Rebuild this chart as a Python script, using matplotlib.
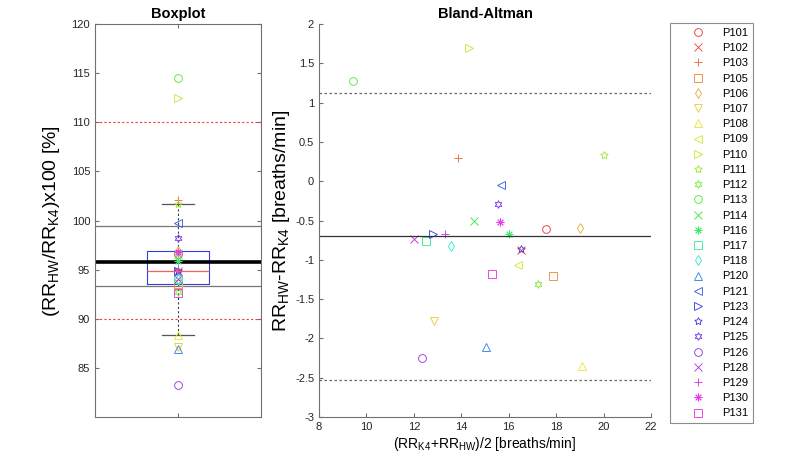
import numpy as np
import matplotlib
matplotlib.use('Agg')
import matplotlib.pyplot as plt
from matplotlib.colors import hsv_to_rgb, to_hex

plt.rcParams['font.family'] = ['Liberation Sans', 'DejaVu Sans']
plt.rcParams['mathtext.fontset'] = 'custom'
plt.rcParams['mathtext.rm'] = 'Liberation Sans'
plt.rcParams['mathtext.it'] = 'Liberation Sans'

# subjects and their markers
subjects = ['P101', 'P102', 'P103', 'P105', 'P106', 'P107', 'P108', 'P109', 'P110',
            'P111', 'P112', 'P113', 'P114', 'P116', 'P117', 'P118', 'P120', 'P121',
            'P123', 'P124', 'P125', 'P126', 'P128', 'P129', 'P130', 'P131']
markers = ['o', 'x', '+', 's', 'd', 'v', '^', '<', '>', (5, 1, 0), (6, 1, 0), 'o', 'x',
           (8, 2, 0), 's', 'd', '^', '<', '>', (5, 1, 0), (6, 1, 0), 'o', 'x', '+',
           (8, 2, 0), 's']
hues = [0.0, 0.02, 0.05, 0.08, 0.11, 0.14, 0.16, 0.19, 0.21, 0.24, 0.27, 0.31, 0.34,
        0.38, 0.43, 0.47, 0.60, 0.63, 0.66, 0.69, 0.72, 0.75, 0.78, 0.81, 0.83, 0.85]

# Bland-Altman: mean of both methods and difference HW-K4 [breaths/min]
ba_mean = [17.56, 16.50, 13.85, 17.88, 19.00, 12.86, 19.08, 16.38, 14.34,
           20.00, 17.25, 9.42, 14.55, 16.03, 12.50, 13.55, 15.04, 15.68,
           12.82, 16.51, 15.54, 12.34, 12.02, 13.31, 15.65, 15.28]
ba_diff = [-0.61, -0.87, 0.295, -1.20, -0.60, -1.775, -2.35, -1.066, 1.69,
           0.333, -1.31, 1.275, -0.50, -0.668, -0.757, -0.83, -2.105, -0.05,
           -0.67, -0.863, -0.286, -2.245, -0.735, -0.676, -0.515, -1.18]
ba_bias = -0.70
ba_loa = [1.12, -2.53]

# ratio HW/K4 in percent
ratio = [96.6, 94.9, 102.1, 93.5, 96.9, 87.1, 88.4, 93.7, 112.5,
         101.7, 92.7, 114.5, 96.6, 95.9, 94.1, 94.1, 86.9, 99.7,
         94.9, 94.9, 98.2, 83.3, 94.1, 95.1, 96.8, 92.6]
ratio_mean = 95.75
ratio_lines = [99.45, 93.35]
ratio_limits = [90, 110]

colors = [to_hex(hsv_to_rgb((h, 0.75, 0.92))) for h in hues]

fig = plt.figure(figsize=(8, 4.67), dpi=100)
axcol = '#707070'
ms = 5.6
mew = 0.65

# ---- boxplot ----
ax1 = fig.add_axes([0.11875, 0.107, 0.2075, 0.8415])
r = np.array(ratio)
q1, med, q3 = np.percentile(r, [25, 50, 75], method='hazen')
iqr = q3 - q1
lo = r[r >= q1 - 1.5 * iqr].min()
hi = r[r <= q3 + 1.5 * iqr].max()
stats = [dict(med=med, q1=q1, q3=q3, whislo=lo, whishi=hi, fliers=[])]
ax1.bxp(stats, positions=[1], widths=0.37, capwidths=0.187, showfliers=False,
        boxprops=dict(color='#3c3cd8', lw=0.8),
        medianprops=dict(color='#f06060', lw=0.9),
        whiskerprops=dict(color='#3a3a60', lw=0.8, ls=(0, (2, 2))),
        capprops=dict(color='#555555', lw=0.9))
for y in ratio_limits:
    ax1.axhline(y, color='#e84040', lw=0.8, ls=(0, (2, 2)))
for y in ratio_lines:
    ax1.axhline(y, color='#777777', lw=0.9)
ax1.axhline(ratio_mean, color='black', lw=2.6)
for i in range(len(subjects)):
    ax1.plot(1, ratio[i], marker=markers[i], ls='none', mfc='none', mec=colors[i],
             ms=ms, mew=mew)
ax1.set_xlim(0.5, 1.5)
ax1.set_ylim(80, 120)
ax1.set_yticks(np.arange(85, 121, 5))
ax1.set_xticks([1])
ax1.set_xticklabels([''])
ax1.tick_params(direction='in', top=True, right=True, length=3, labelsize=8,
                color=axcol, labelcolor='#262626')
for s in ax1.spines.values():
    s.set_color(axcol)
    s.set_linewidth(0.8)
ax1.set_title('Boxplot', fontsize=10.5, fontweight='bold', pad=4)
ax1.set_ylabel(r'(RR$_{\mathrm{HW}}$/RR$_{\mathrm{K4}}$)x100 [%]', fontsize=14)
ax1.yaxis.set_label_coords(-0.2, 0.5)

# ---- Bland-Altman ----
ax2 = fig.add_axes([0.39875, 0.107, 0.415, 0.8415])
handles = []
for i in range(len(subjects)):
    h, = ax2.plot(ba_mean[i], ba_diff[i], marker=markers[i], ls='none', mfc='none',
                  mec=colors[i], ms=ms, mew=mew, label=subjects[i])
    handles.append(h)
ax2.axhline(ba_bias, color='#333333', lw=0.9)
for y in ba_loa:
    ax2.axhline(y, color='#666666', lw=0.9, ls=(0, (2, 2)))
ax2.set_xlim(8, 22)
ax2.set_ylim(-3, 2)
ax2.set_xticks(np.arange(8, 23, 2))
ax2.set_yticks(np.arange(-3, 2.01, 0.5))
ax2.set_yticklabels(['-3', '-2.5', '-2', '-1.5', '-1', '-0.5', '0', '0.5', '1', '1.5', '2'])
ax2.spines['top'].set_visible(False)
ax2.spines['right'].set_visible(False)
for s in ax2.spines.values():
    s.set_color(axcol)
    s.set_linewidth(0.8)
ax2.tick_params(direction='in', length=3, labelsize=8, color=axcol, labelcolor='#262626')
ax2.set_title('Bland-Altman', fontsize=10.5, fontweight='bold', pad=4)
ax2.set_ylabel(r'RR$_{\mathrm{HW}}$-RR$_{\mathrm{K4}}$ [breaths/min]', fontsize=14)
ax2.yaxis.set_label_coords(-0.082, 0.5)
ax2.set_xlabel(r'(RR$_{\mathrm{K4}}$+RR$_{\mathrm{HW}}$)/2 [breaths/min]', fontsize=10, labelpad=2)

leg = fig.legend(handles=handles, loc='upper left', bbox_to_anchor=(0.8375, 0.951),
                 fontsize=8, frameon=True, fancybox=False, labelspacing=0.47,
                 handlelength=4.1, handletextpad=0.15, borderpad=0.45, borderaxespad=0)
leg.get_frame().set_edgecolor(axcol)
leg.get_frame().set_linewidth(0.8)

fig.savefig('out.png', dpi=100)
